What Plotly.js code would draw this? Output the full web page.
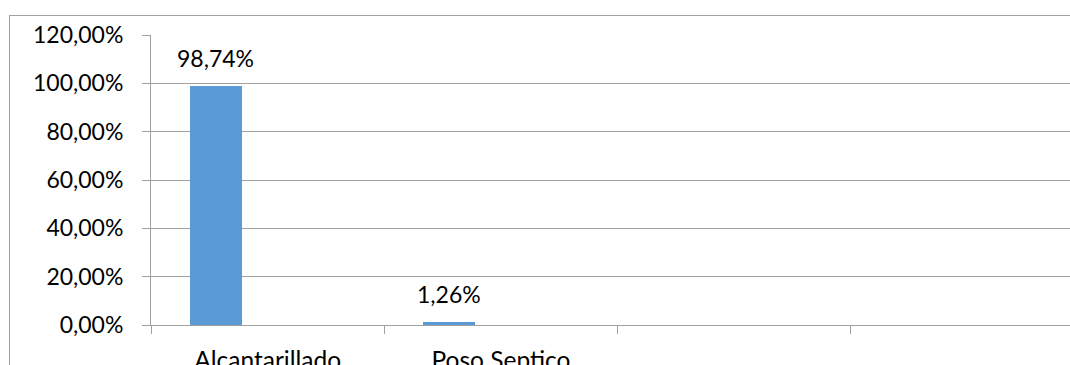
<!DOCTYPE html>
<html>
<head>
<meta charset="utf-8">
<script src="https://cdn.plot.ly/plotly-3.0.1.min.js"></script>
<style>
  html, body { margin: 0; padding: 0; background: #fff; overflow: hidden; }
  #wrap { position: relative; width: 1070px; height: 365px; }
  #chart { position: absolute; left: 0; top: 0; width: 1070px; height: 365px; }
  #frame { position: absolute; left: 9px; top: 15px; width: 1100px; height: 400px;
           border: 1px solid #a0a0a0; pointer-events: none; box-sizing: border-box; }
</style>
</head>
<body>
<div id="wrap">
  <div id="chart"></div>
  <div id="frame"></div>
</div>
<script>
// Data
const categories = ['Alcantarillado', 'Poso Septico', ' ', '  '];
const values = [98.74, 1.26, null, null];   // percent
const yTicks = [0, 20, 40, 60, 80, 100, 120];

const FONT = 'Lato, "Open Sans", sans-serif';
const GRID = '#a0a0a0';

function fmt(v) { return v.toFixed(2).replace('.', ',') + '%'; }

const trace = {
  type: 'bar',
  x: categories,
  y: values,
  marker: { color: '#5b9bd5', line: { width: 0 } },
  width: 0.2216,
  offset: -0.333,
  hoverinfo: 'skip',
  showlegend: false
};

const annotations = [];
categories.forEach((c, i) => {
  if (values[i] === null) return;
  annotations.push({
    x: c, y: values[i], xref: 'x', yref: 'y',
    text: fmt(values[i]), showarrow: false,
    xanchor: 'center', yanchor: 'bottom',
    xshift: -52, yshift: 12,
    font: { family: FONT, size: 23, color: '#000' }
  });
});

const layout = {
  width: 1070, height: 365,
  margin: { l: 151, r: 0, t: 35, b: 40 },
  paper_bgcolor: 'rgba(0,0,0,0)',
  plot_bgcolor: '#fff',
  separators: ',.',
  font: { family: FONT, size: 23, color: '#000' },
  bargap: 0,
  xaxis: {
    type: 'category',
    categoryorder: 'array',
    categoryarray: categories,
    range: [-0.5, -0.5 + (1070 - 151) / 233.3],
    tickson: 'boundaries',
    ticks: 'outside', ticklen: 8, tickcolor: GRID, tickwidth: 1,
    showline: true, linecolor: GRID, linewidth: 1,
    showgrid: false, zeroline: false,
    ticklabelstandoff: 14,
    tickfont: { family: FONT, size: 24.5, color: '#000' },
    fixedrange: true
  },
  yaxis: {
    range: [0, 120],
    tickvals: yTicks,
    ticktext: yTicks.map(fmt),
    ticks: 'outside', ticklen: 8, tickcolor: GRID, tickwidth: 1,
    showline: true, linecolor: GRID, linewidth: 1,
    showgrid: true, gridcolor: GRID, gridwidth: 1,
    zeroline: false,
    ticklabelstandoff: 14,
    tickfont: { family: FONT, size: 23, color: '#000' },
    fixedrange: true
  },
  annotations: annotations
};

Plotly.newPlot('chart', [trace], layout, { displayModeBar: false, staticPlot: true });
</script>
</body>
</html>
